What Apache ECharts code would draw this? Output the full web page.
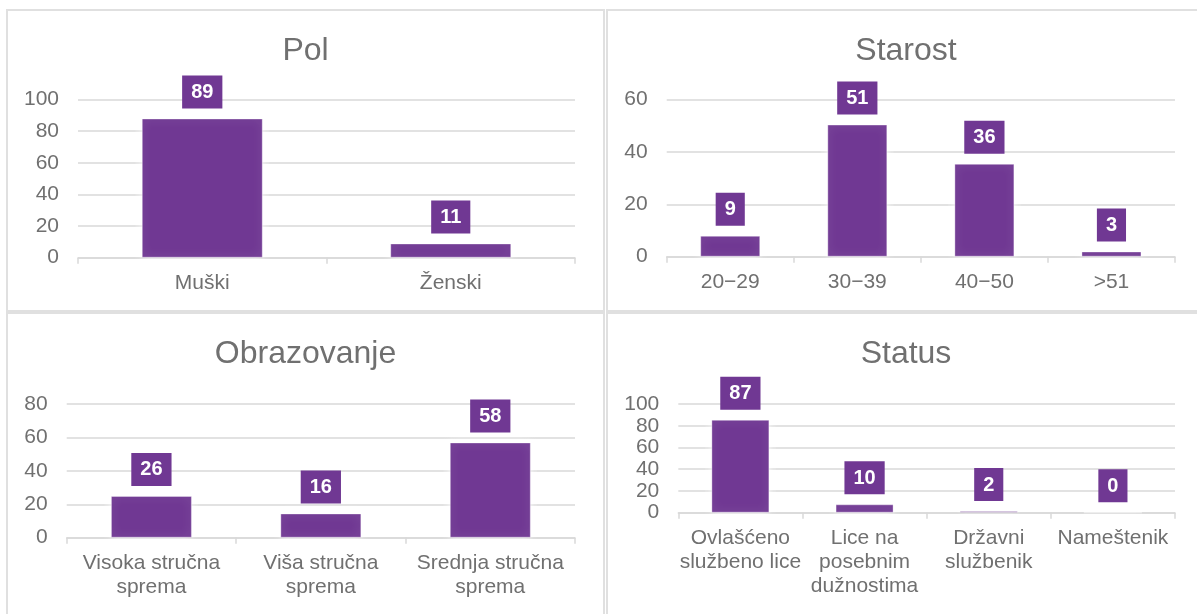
<!DOCTYPE html>
<html><head><meta charset="utf-8">
<script src="https://cdn.jsdelivr.net/npm/echarts@6/dist/echarts.min.js"></script>
<style>
html,body{margin:0;padding:0;background:#fff;width:1197px;height:614px;overflow:hidden;position:relative;}
.panel{position:absolute;box-sizing:border-box;border:2px solid #e0e0e0;}
.chart{position:absolute;left:0;top:0;right:0;bottom:0;}
</style></head><body>
<div class="panel" style="left:6px;top:9px;width:599px;height:303px"><div id="c1" class="chart"></div></div>
<div class="panel" style="left:606px;top:9px;width:600px;height:303px"><div id="c2" class="chart"></div></div>
<div class="panel" style="left:6px;top:312px;width:599px;height:310px"><div id="c3" class="chart"></div></div>
<div class="panel" style="left:606px;top:312px;width:600px;height:310px"><div id="c4" class="chart"></div></div>
<script>
// ---- data ----
const polTitle = 'Pol';
const polCategories = ['Muški', 'Ženski'];
const polBars = [88, 9];
const polLabels = [89, 11];

const starostTitle = 'Starost';
const starostCategories = ['20\u221229', '30\u221239', '40\u221250', '>51'];
const starostBars = [8, 50.5, 35.5, 2];
const starostLabels = [9, 51, 36, 3];

const obrazTitle = 'Obrazovanje';
const obrazCategories = ['Visoka stručna\nsprema', 'Viša stručna\nsprema', 'Srednja stručna\nsprema'];
const obrazBars = [25, 14.5, 57];
const obrazLabels = [26, 16, 58];

const statusTitle = 'Status';
const statusCategories = ['Ovlašćeno\nslužbeno lice', 'Lice na\nposebnim\ndužnostima', 'Državni\nslužbenik', 'Nameštenik'];
const statusBars = [85.5, 7.7, 1.5, 0];
const statusLabels = [87, 10, 2, 0];

// ---- styles ----
const FONT = '"Liberation Sans", Arial, sans-serif';
const PURPLE = '#703893';
const TEXT = '#707070';
const GRID = '#d9d9d9';

function makeOption(title, cats, bars, labels, yMax, grid, barWidth) {
  return {
    animation: false,
    textStyle: { fontFamily: FONT },
    title: {
      text: title, left: 'center', top: 19,
      textStyle: { fontSize: 32, fontWeight: 'normal', color: TEXT, fontFamily: FONT }
    },
    grid: grid,
    xAxis: {
      type: 'category', data: cats,
      axisLine: { show: true, lineStyle: { color: GRID, width: 1.5 } },
      axisTick: { show: true, length: 6, alignWithLabel: false, lineStyle: { color: GRID, width: 1.5 } },
      axisLabel: { interval: 0, color: TEXT, fontSize: 21, lineHeight: 24, margin: 14, fontFamily: FONT }
    },
    yAxis: {
      type: 'value', min: 0, max: yMax, interval: 20,
      axisLine: { show: false }, axisTick: { show: false },
      axisLabel: { color: TEXT, fontSize: 21, margin: 19, fontFamily: FONT },
      splitLine: { lineStyle: { color: GRID, width: 1.5 } }
    },
    series: [{
      type: 'bar', data: bars, barWidth: barWidth,
      itemStyle: { color: PURPLE, borderColor: 'rgba(255,255,255,0.35)', borderWidth: 1, shadowColor: '#ffffff', shadowBlur: 8 },
      label: {
        show: true, position: 'top', distance: 10,
        formatter: p => String(labels[p.dataIndex]),
        color: '#fff', fontWeight: 'bold', fontSize: 20, lineHeight: 20, fontFamily: FONT,
        backgroundColor: PURPLE, padding: [7, 9, 6, 9]
      }
    }]
  };
}

const charts = [
  ['c1', makeOption(polTitle, polCategories, polBars, polLabels, 100, { left: 70, top: 88.5, width: 497, height: 158.2 }, 121)],
  ['c2', makeOption(starostTitle, starostCategories, starostBars, starostLabels, 60, { left: 58.7, top: 88.7, width: 508.3, height: 157 }, 60)],
  ['c3', makeOption(obrazTitle, obrazCategories, obrazBars, obrazLabels, 80, { left: 58.7, top: 90, width: 508.3, height: 133.7 }, 81)],
  ['c4', makeOption(statusTitle, statusCategories, statusBars, statusLabels, 100, { left: 70.3, top: 90, width: 496.7, height: 108.7 }, 58)]
];
charts.forEach(([id, opt]) => {
  const c = echarts.init(document.getElementById(id), null, { renderer: 'canvas' });
  c.setOption(opt);
});
</script>
</body></html>
